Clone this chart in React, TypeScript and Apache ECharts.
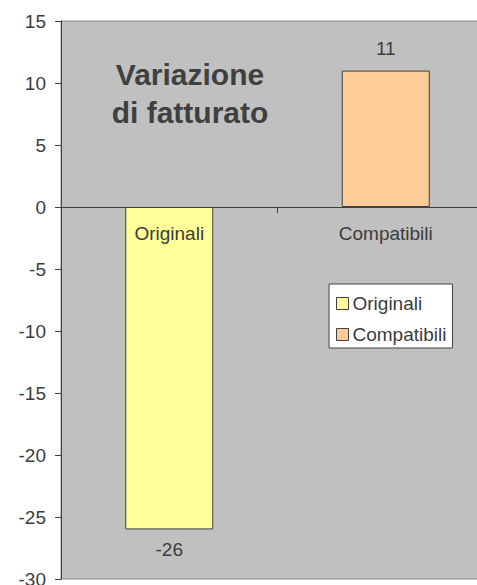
import React, { useEffect, useRef } from "react";
import * as echarts from "echarts";

const categories = ["Originali", "Compatibili"];
const seriesNames = ["Originali", "Compatibili"];
const originaliValues: (number | string)[] = [-26, "-"];
const compatibiliValues: (number | string)[] = ["-", 11];
const yMin = -30;
const yMax = 15;
const yInterval = 5;
const titleText = "Variazione\ndi fatturato";

const FONT = "'Liberation Sans', Arial, sans-serif";
const TEXT = "#3c3c3c";
const FS = 19;

const GRID_TOP = 21;
const GRID_BOTTOM = 6;
const HEIGHT = 585;

export default function App() {
  const ref = useRef<HTMLDivElement>(null);
  useEffect(() => {
    if (!ref.current) return;
    const chart = echarts.init(ref.current, null, { renderer: "svg" });
    const gridH = HEIGHT - GRID_TOP - GRID_BOTTOM;
    const zeroOffset = -gridH * (0 - yMin) / (yMax - yMin);
    chart.setOption({
      animation: false,
      backgroundColor: "#ffffff",
      textStyle: { fontFamily: FONT, color: TEXT },
      grid: {
        left: 61,
        top: GRID_TOP,
        right: -17,
        bottom: GRID_BOTTOM,
        show: true,
        backgroundColor: "#c0c0c0",
        borderColor: "#8a8a8a",
        borderWidth: 1,
        containLabel: false,
        outerBoundsMode: "none",
      },
      xAxis: {
        type: "category",
        data: categories,
        position: "bottom",
        offset: zeroOffset,
        z: 5,
        axisLine: { onZero: false, lineStyle: { color: "#404040", width: 1 } },
        axisTick: { show: true, length: 6, lineStyle: { color: "#404040" } },
        axisLabel: { fontSize: FS, color: TEXT, fontFamily: FONT, margin: 17 },
        splitLine: { show: false },
      },
      yAxis: {
        type: "value",
        min: yMin,
        max: yMax,
        interval: yInterval,
        axisLine: { show: true, onZero: false, lineStyle: { color: "#404040", width: 1 } },
        axisTick: { show: true, length: 6, lineStyle: { color: "#404040" } },
        axisLabel: { fontSize: FS, color: TEXT, fontFamily: FONT, margin: 15 },
        splitLine: { show: false },
      },
      legend: {
        orient: "vertical",
        left: 329,
        top: 284,
        backgroundColor: "#ffffff",
        borderColor: "#404040",
        borderWidth: 1,
        padding: [10, 6, 4, 7],
        itemWidth: 12,
        itemHeight: 12,
        itemGap: 12,
        icon: "rect",
        itemStyle: { borderColor: "#404040", borderWidth: 1 },
        textStyle: { fontSize: FS, color: TEXT, fontFamily: FONT, padding: [0, 0, 0, -1] },
        data: seriesNames,
      },
      graphic: [
        {
          type: "text",
          x: 190,
          y: 55,
          style: {
            text: titleText,
            align: "center",
            verticalAlign: "top",
            fontSize: 30,
            fontWeight: "bold",
            lineHeight: 38,
            fontFamily: FONT,
            fill: "#404040",
          },
        },
      ],
      series: [
        {
          name: seriesNames[0],
          type: "bar",
          data: originaliValues,
          barWidth: 88,
          barGap: "-100%",
          itemStyle: { color: "#ffff99", borderColor: "#404040", borderWidth: 1 },
          label: {
            show: true,
            position: "bottom",
            distance: 11,
            fontSize: FS,
            color: TEXT,
            fontFamily: FONT,
          },
        },
        {
          name: seriesNames[1],
          type: "bar",
          data: compatibiliValues,
          barWidth: 88,
          barGap: "-100%",
          itemStyle: { color: "#ffcc99", borderColor: "#404040", borderWidth: 1 },
          label: {
            show: true,
            position: "top",
            distance: 13,
            fontSize: FS,
            color: TEXT,
            fontFamily: FONT,
          },
        },
      ],
    });
    return () => chart.dispose();
  }, []);
  return (
    <div
      ref={ref}
      style={{ position: "absolute", left: 0, top: 0, width: 477, height: 585 }}
    />
  );
}
